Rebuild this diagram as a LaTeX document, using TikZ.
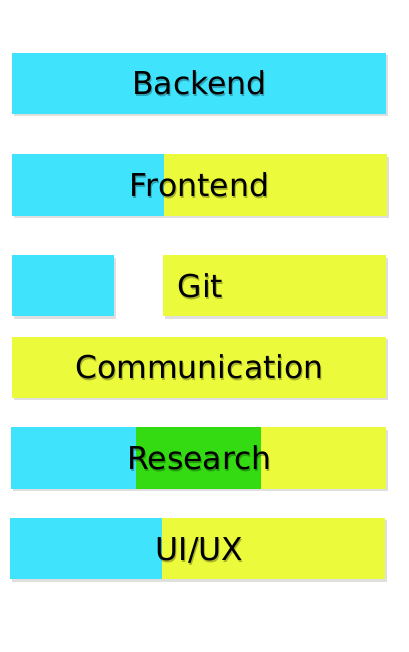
\documentclass[tikz,border=0pt]{standalone}
\usepackage{fontspec}
\setmainfont{DejaVu Sans}
\usetikzlibrary{shadows}

\definecolor{barcyan}{RGB}{64,227,252}
\definecolor{baryellow}{RGB}{235,250,58}
\definecolor{bargreen}{RGB}{52,218,18}

% soft shadow under the label text
\newcommand\softshade[1]{\rlap{\kern1pt\raisebox{-2pt}{\begin{pgfscope}\pgfsetfillopacity{0.28}#1\end{pgfscope}}}#1}

\tikzset{
    bar/.style = {drop shadow={shadow xshift=1.5pt, shadow yshift=-2.5pt, opacity=0.25}},
    label/.style = {font = {\fontsize{31.5}{36}\selectfont}, anchor=base, inner sep=0pt, black}
}

\begin{document}
\begin{tikzpicture}[x=1pt, y=-1pt]
        \useasboundingbox (0,0) rectangle (408,652);

        % Backend
        \path[bar, fill=barcyan] (12,53) rectangle (386,114);
        % Frontend
        \path[bar, fill=barcyan] (12,154.5) rectangle (164,215.5);
        \path[bar, fill=baryellow] (164,154.5) rectangle (387,215.5);
        % Git
        \path[bar, fill=barcyan] (12,255) rectangle (114,316);
        \path[bar, fill=baryellow] (163,255) rectangle (386,316);
        % Communication
        \path[bar, fill=baryellow] (12,336.5) rectangle (386,397.5);
        % Research
        \path[bar, fill=barcyan] (11,427) rectangle (136,488.5);
        \path[bar, fill=bargreen] (136,427) rectangle (261,488.5);
        \path[bar, fill=baryellow] (261,427) rectangle (386,488.5);
        % UI/UX
        \path[bar, fill=barcyan] (10,517.5) rectangle (162,579);
        \path[bar, fill=baryellow] (162,517.5) rectangle (385,579);

        \node[label] (backend) at (199.5, 95) {\softshade{Backend}};
        \node[label] (frontend) at (199.5, 196.5) {\softshade{Frontend}};
        \node[label] (git) at (200.5, 297.5) {\softshade{Git}};
        \node[label] (communication) at (199.5, 378.5) {\softshade{Communication}};
        \node[label] (research) at (199.5, 469.5) {\softshade{Research}};
        \node[label] (uiux) at (199.5, 560) {\softshade{UI/UX}};
    \end{tikzpicture}
\end{document}
